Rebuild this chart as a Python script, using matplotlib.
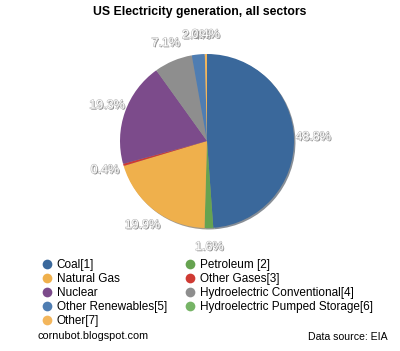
import matplotlib.pyplot as plt
import matplotlib.patheffects as pe
from matplotlib.lines import Line2D

plt.rcParams['font.family'] = ['Liberation Sans', 'DejaVu Sans']

# wedges, clockwise from 12 o'clock
pie_sources = ['Coal[1]', 'Petroleum [2]', 'Natural Gas', 'Other Gases[3]', 'Nuclear',
               'Hydroelectric Conventional[4]', 'Other Renewables[5]', 'Other[7]']
pie_shares = [48.8, 1.6, 19.9, 0.4, 19.3, 7.1, 2.4, 0.4]

# legend order (two columns)
legend_sources = ['Coal[1]', 'Natural Gas', 'Nuclear', 'Other Renewables[5]', 'Other[7]',
                  'Petroleum [2]', 'Other Gases[3]', 'Hydroelectric Conventional[4]',
                  'Hydroelectric Pumped Storage[6]']

colors = {
    'Coal[1]': '#3a689b',
    'Petroleum [2]': '#66a350',
    'Natural Gas': '#efb04c',
    'Other Gases[3]': '#cf3a33',
    'Nuclear': '#7c4b8b',
    'Hydroelectric Conventional[4]': '#8e8e8e',
    'Other Renewables[5]': '#4f7db2',
    'Hydroelectric Pumped Storage[6]': '#76b466',
    'Other[7]': '#f3b65c',
}

W, H = 400, 351
fig = plt.figure(figsize=(W / 100, H / 100), dpi=100)

cx, cy, r = 207, 141, 87
ax = fig.add_axes([(cx - r) / W, (H - cy - r) / H, 2 * r / W, 2 * r / H])

wedges, texts = ax.pie(pie_shares,
                       colors=[colors[s] for s in pie_sources],
                       labels=[f'{v}%' for v in pie_shares],
                       startangle=90, counterclock=False,
                       labeldistance=1.22,
                       wedgeprops=dict(linewidth=0),
                       shadow=dict(ox=0.012, oy=-0.012, shade=0.7),
                       textprops=dict(color='white', fontsize=9))
for t in texts:
    t.set_ha('center')
    t.set_path_effects([pe.SimplePatchShadow(offset=(0.8, -0.8), shadow_rgbFace='#777777', alpha=0.9),
                        pe.withStroke(linewidth=0.8, foreground='#bbbbbb')])
ax.set_xlim(-1, 1)
ax.set_ylim(-1, 1)
ax.set_aspect('equal')
ax.axis('off')

fig.text(0.5, 1 - 12 / H, 'US Electricity generation, all sectors',
         ha='center', va='center', fontsize=8.8, fontweight='bold')

handles = [Line2D([], [], linestyle='none', marker='o', markersize=7,
                  markerfacecolor=colors[s], markeredgecolor='none') for s in legend_sources]
fig.legend(handles, legend_sources, ncol=2, loc='upper left',
           bbox_to_anchor=(35 / W, 1 - 253 / H), frameon=False, fontsize=8.5,
           borderpad=0, handlelength=1.0, handletextpad=0.35,
           columnspacing=1.45, labelspacing=0.17)

fig.text(38 / W, 1 - 336 / H, 'cornubot.blogspot.com', ha='left', va='center', fontsize=7.8)
fig.text(388 / W, 1 - 337 / H, 'Data source: EIA', ha='right', va='center', fontsize=7.6)

fig.savefig('out.png', dpi=100)
